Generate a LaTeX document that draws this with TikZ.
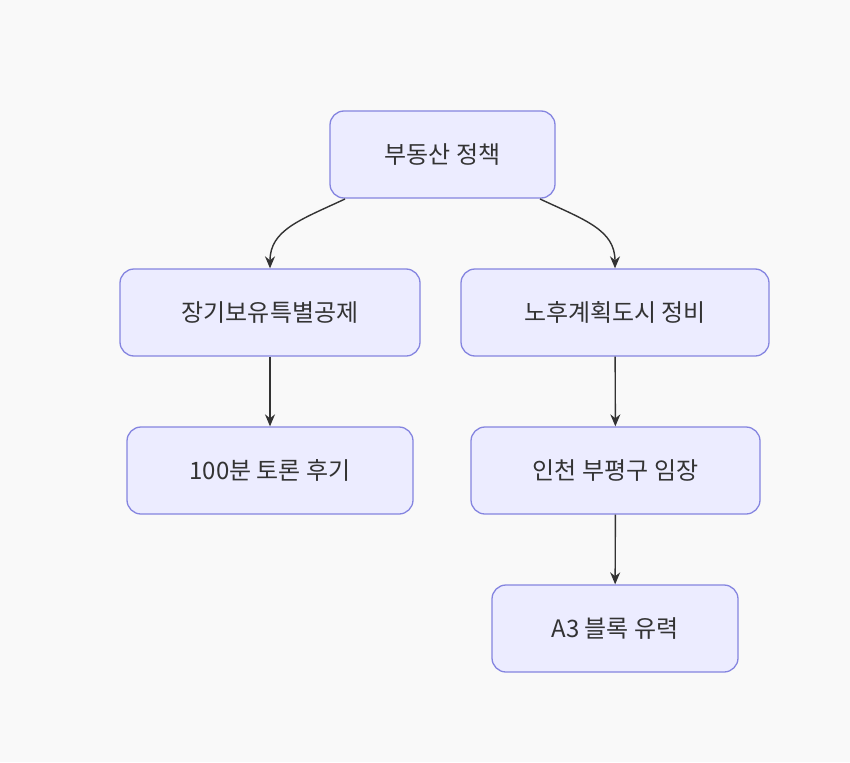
\documentclass[tikz,border=0pt]{standalone}
\usepackage{fontspec}
\setmainfont{Noto Sans CJK KR}
\usetikzlibrary{arrows.meta}
\definecolor{bg}{HTML}{F9F9F9}
\definecolor{nf}{HTML}{ECECFF}
\definecolor{nd}{HTML}{8585E0}
\definecolor{ln}{HTML}{333333}
\begin{document}
\begin{tikzpicture}[x=1pt,y=-1pt,
  box/.style={draw=nd,fill=nf,line width=1.3pt,rounded corners=14pt,minimum height=87pt,inner sep=0pt,font=\fontsize{24}{28}\selectfont,text=ln},
  arr/.style={draw=ln,line width=1.4pt,-{Stealth[length=12pt,width=10pt]}}]
\fill[bg] (0,0) rectangle (850,762);
\node[box,minimum width=225pt] (r) at (442.5,154.5) {부동산 정책};
\node[box,minimum width=300pt] (a) at (270,312.5) {장기보유특별공제};
\node[box,minimum width=308pt] (b) at (615,312.5) {노후계획도시 정비};
\node[box,minimum width=286pt] (c) at (270,470.5) {100분 토론 후기};
\node[box,minimum width=289pt] (d) at (615.5,470.5) {인천 부평구 임장};
\node[box,minimum width=246pt] (e) at (615,628.5) {A3 블록 유력};
\coordinate (r1) at (345,199);
\coordinate (r2) at (540,199);
\draw[arr] (r1) .. controls (300,220) and (270,230) .. (a.north);
\draw[arr] (r2) .. controls (585,220) and (615,230) .. (b.north);
\draw[arr] (a) -- (c);
\draw[arr] (b) -- (d);
\draw[arr] (d) -- (e);
\end{tikzpicture}
\end{document}
